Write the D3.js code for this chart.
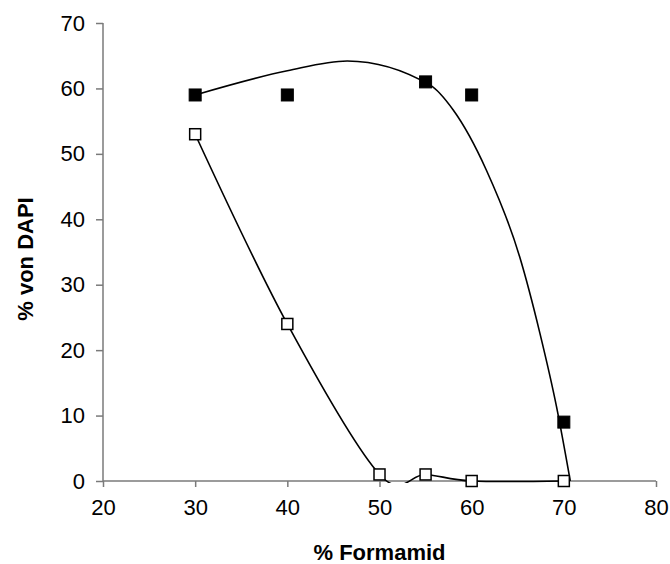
<!DOCTYPE html>
<html>
<head>
<meta charset="utf-8">
<script src="https://cdn.jsdelivr.net/npm/d3@7"></script>
<style>
  html, body { margin: 0; padding: 0; background: #fff; }
  svg { display: block; }
  text { font-family: Arial, "Liberation Sans", sans-serif; fill: #000; }
</style>
</head>
<body>
<svg id="chart" width="670" height="564"></svg>
<script>
// ---- data ----
const formamid = [30, 40, 55, 60, 70];
const filledValues = [59, 59, 61, 59, 9];
const openFormamid = [30, 40, 50, 55, 60, 70];
const openValues = [53, 24, 1, 1, 0, 0];
// smooth fitted curve for the filled series
const fitX = [30, 40, 46.5, 55.5, 58, 61.6, 65.2, 67.4, 69.2, 70.7];
const fitY = [59, 62.7, 64.2, 60.5, 56.7, 47.5, 34.3, 22.6, 11.4, 0];
const xTicks = [20, 30, 40, 50, 60, 70, 80];
const yTicks = [0, 10, 20, 30, 40, 50, 60, 70];
const xTitle = "% Formamid";
const yTitle = "% von DAPI";

const svg = d3.select("#chart");
const x = d3.scaleLinear().domain([20, 80]).range([103, 656]);
const y = d3.scaleLinear().domain([0, 70]).range([481, 23]);

svg.append("defs").append("clipPath").attr("id", "plotclip")
  .append("rect").attr("x", x(20)).attr("y", y(70) - 2)
  .attr("width", x(80) - x(20)).attr("height", y(0) - y(70) + 4);

// axes
const axisColor = "#7a7a7a";
const gx = svg.append("g").attr("transform", `translate(0,${y(0)})`)
  .call(d3.axisBottom(x).tickValues(xTicks).tickSize(6).tickPadding(20).tickFormat(d3.format("d")));
const gy = svg.append("g").attr("transform", `translate(${x(20)},0)`)
  .call(d3.axisLeft(y).tickValues(yTicks).tickSize(7).tickPadding(11).tickFormat(d3.format("d")));
[gx, gy].forEach(g => {
  g.select(".domain").attr("stroke", axisColor).attr("stroke-width", 1.5);
  g.selectAll(".tick line").attr("stroke", axisColor).attr("stroke-width", 1.5);
  g.selectAll(".tick text").attr("font-size", 22).attr("font-family", "Arial, 'Liberation Sans', sans-serif").attr("fill", "#000");
});
gx.select(".domain").attr("d", `M${x(20)},0H${x(80)}`);
gy.select(".domain").attr("d", `M0,${y(70)}V${y(0)}`);
gx.selectAll(".tick line").attr("y1", 0);
gx.selectAll(".tick text").attr("dy", "0.35em");

// lines
const plot = svg.append("g").attr("clip-path", "url(#plotclip)");
const fitData = fitX.map((d, i) => [d, fitY[i]]);
const openData = openFormamid.map((d, i) => [d, openValues[i]]);
plot.append("path").datum(fitData)
  .attr("d", d3.line().x(d => x(d[0])).y(d => y(d[1])).curve(d3.curveMonotoneX))
  .attr("fill", "none").attr("stroke", "#000").attr("stroke-width", 1.6);
plot.append("path").datum(openData)
  .attr("d", d3.line().x(d => x(d[0])).y(d => y(d[1])).curve(d3.curveCardinal.tension(0)))
  .attr("fill", "none").attr("stroke", "#000").attr("stroke-width", 1.6);

// markers
const filledData = formamid.map((d, i) => [d, filledValues[i]]);
svg.append("g").selectAll("rect").data(filledData).join("rect")
  .attr("x", d => x(d[0]) - 6).attr("y", d => y(d[1]) - 6)
  .attr("width", 12).attr("height", 12)
  .attr("fill", "#000").attr("stroke", "#000").attr("stroke-width", 1);
svg.append("g").selectAll("rect").data(openData).join("rect")
  .attr("x", d => x(d[0]) - 5.5).attr("y", d => y(d[1]) - 5.5)
  .attr("width", 11).attr("height", 11)
  .attr("fill", "#fff").attr("stroke", "#000").attr("stroke-width", 1.5);

// titles
svg.append("text").attr("x", (x(20) + x(80)) / 2).attr("y", 560)
  .attr("text-anchor", "middle").attr("font-size", 22).attr("font-weight", "bold")
  .text(xTitle);
svg.append("text").attr("transform", "translate(33,259) rotate(-90)")
  .attr("text-anchor", "middle").attr("font-size", 22).attr("font-weight", "bold")
  .text(yTitle);
</script>
</body>
</html>
